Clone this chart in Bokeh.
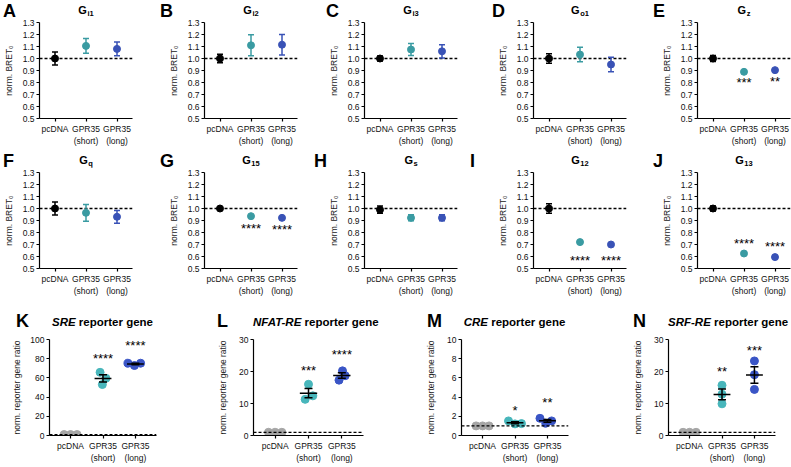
import math
import numpy as np
from bokeh.plotting import figure
from bokeh.models import Label, FixedTicker, PrintfTickFormatter, Span, Div
from bokeh.layouts import row, column
from bokeh.embed import file_html
from bokeh.resources import INLINE

FONT = "Liberation Sans"

# ---------------- data ----------------
groups = ["pcDNA", "GPR35\n(short)", "GPR35\n(long)"]

bret_letters = ["A", "B", "C", "D", "E", "F", "G", "H", "I", "J"]
bret_subs = ["i1", "i2", "i3", "o1", "z", "q", "15", "s", "12", "13"]
bret_mean = [
    [1.00, 1.105, 1.080],
    [1.00, 1.110, 1.115],
    [1.00, 1.075, 1.060],
    [1.00, 1.033, 0.950],
    [1.00, 0.889, 0.903],
    [1.00, 0.964, 0.931],
    [1.00, 0.936, 0.922],
    [0.99, 0.922, 0.922],
    [1.00, 0.720, 0.700],
    [1.00, 0.625, 0.595],
]
bret_sem = [
    [0.055, 0.062, 0.058],
    [0.035, 0.088, 0.085],
    [0.020, 0.050, 0.055],
    [0.040, 0.060, 0.060],
    [0.025, 0.005, 0.005],
    [0.055, 0.070, 0.053],
    [0.008, 0.005, 0.005],
    [0.030, 0.025, 0.025],
    [0.040, 0.005, 0.005],
    [0.020, 0.015, 0.012],
]
bret_stars = [
    ["", "", ""], ["", "", ""], ["", "", ""], ["", "", ""],
    ["", "***", "**"],
    ["", "", ""],
    ["", "****", "****"],
    ["", "", ""],
    ["", "****", "****"],
    ["", "****", "****"],
]
bret_star_y = [
    [None] * 3, [None] * 3, [None] * 3, [None] * 3,
    [None, 0.800, 0.805],
    [None] * 3,
    [None, 0.830, 0.825],
    [None] * 3,
    [None, 0.565, 0.565],
    [None, 0.710, 0.685],
]
bret_yticks = [0.5, 0.6, 0.7, 0.8, 0.9, 1.0, 1.1, 1.2, 1.3]

rep_letters = ["K", "L", "M", "N"]
rep_italic = ["SRE", "NFAT-RE", "CRE", "SRF-RE"]
rep_ymax = [100, 30, 10, 30]
rep_yticks = [[0, 20, 40, 60, 80, 100], [0, 10, 20, 30], [0, 2, 4, 6, 8, 10], [0, 10, 20, 30]]
rep_pcdna = [[1.0, 1.0, 1.0], [1.0, 1.0, 1.0], [1.0, 1.0, 1.0], [1.0, 1.0, 1.0]]
rep_short = [[65.8, 59.6, 53.1], [16.0, 11.3, 12.4], [1.52, 1.21, 1.24], [15.7, 12.9, 9.9]]
rep_long = [[75.3, 72.9, 75.3], [20.2, 17.3, 18.7], [1.79, 1.28, 1.52], [23.3, 19.0, 14.4]]
rep_stars = [["", "****", "****"], ["", "***", "****"], ["", "*", "**"], ["", "**", "***"]]
rep_star_y = [[None, 80.5, 93.5], [None, 20.3, 25.4], [None, 2.6, 3.4], [None, 19.9, 26.7]]

# ---------------- style / layout ----------------
TOP_COLORS = ["#000000", "#3a9ba2", "#3952b6"]
DOT_COLORS = ["#a6a6a6", "#48b6bb", "#3a55c6"]

# top two rows: figure widths, left border, frame width
TOP_W = [165, 160, 169, 164, 133]
TOP_L = 34
TOP_F = 98
# bottom row
REP_W = [212, 208, 207, 164]
REP_L = [49, 41, 41, 41]
REP_F = [107, 110, 107, 107]
REP_STANDOFF = [5, 8, 8, 8]

# letter x positions (page px)
row1_letter_x = [3, 160, 326, 492, 653]
row2_letter_x = [3, 160, 314, 470, 653]
rep_letter_x = [16, 217, 427, 633]

# horizontal jitter of replicate dots (x units)
rep_jit_pc = [[-0.2, 0.0, 0.2]] * 4
rep_jit_short = [[-0.09, 0.09, -0.02], [0.0, -0.1, 0.13], [-0.2, 0.0, 0.2], [0.0, 0.0, 0.0]]
rep_jit_long = [[-0.23, -0.03, 0.16], [0.02, -0.085, 0.1], [-0.23, -0.05, 0.13], [0.0, 0.0, 0.0]]


def style_axes(p, ylabel, yticks, fmt, label_standoff):
    p.xaxis.ticker = FixedTicker(ticks=[0.5, 1.5, 2.5])
    p.xaxis.major_label_overrides = {0.5: groups[0], 1.5: groups[1], 2.5: groups[2]}
    p.yaxis.ticker = FixedTicker(ticks=yticks)
    p.yaxis.formatter = PrintfTickFormatter(format=fmt)
    p.yaxis.axis_label = ylabel
    for ax in (p.xaxis[0], p.yaxis[0]):
        ax.axis_line_color = "black"
        ax.axis_line_width = 1.2
        ax.major_tick_line_color = "black"
        ax.major_tick_line_width = 1.2
        ax.major_tick_in = 0
        ax.major_tick_out = 3
        ax.minor_tick_line_color = None
        ax.major_label_text_font = FONT
        ax.major_label_text_font_size = "8.5px"
        ax.major_label_text_color = "#111111"
        ax.major_label_standoff = 2
        ax.axis_label_text_font = FONT
        ax.axis_label_text_font_size = "8.5px"
        ax.axis_label_text_font_style = "normal"
        ax.axis_label_text_color = "#222222"
    p.yaxis.axis_label_standoff = label_standoff
    p.xgrid.visible = False
    p.ygrid.visible = False
    p.outline_line_color = None


def base_fig(width, height, xr, yr, bl, br, bt, bb):
    return figure(width=width, height=height, x_range=xr, y_range=yr,
                  output_backend="svg", toolbar_location=None,
                  min_border_left=bl, min_border_right=br,
                  min_border_top=bt, min_border_bottom=bb)


def star_label(p, x, y, txt):
    p.add_layout(Label(x=x, y=y, text=txt, text_align="center", text_baseline="alphabetic",
                       y_offset=0, text_font=FONT, text_font_size="13px", text_color="black"))


def bret_panel(i, col):
    w = TOP_W[col]
    p = base_fig(w, 133, (0, 3), (0.5, 1.3), TOP_L, w - TOP_L - TOP_F, 5, 32)
    style_axes(p, "norm. BRET\u2080", bret_yticks, "%.1f", 6)
    p.add_layout(Span(location=1.0, dimension="width", line_color="black",
                      line_width=1.3, line_dash="3 2", level="underlay"))
    xs = [k + 0.5 for k in range(3)]
    m = bret_mean[i]
    s = bret_sem[i]
    lo = [a - b for a, b in zip(m, s)]
    hi = [a + b for a, b in zip(m, s)]
    p.segment(x0=xs, y0=lo, x1=xs, y1=hi, line_color=TOP_COLORS, line_width=1.5)
    p.scatter(xs, hi, marker="dash", size=6, line_color=TOP_COLORS, line_width=1.5)
    p.scatter(xs, lo, marker="dash", size=6, line_color=TOP_COLORS, line_width=1.5)
    p.scatter(xs, m, size=7, fill_color=TOP_COLORS, line_color=TOP_COLORS)
    for k in range(3):
        if bret_stars[i][k]:
            star_label(p, xs[k], bret_star_y[i][k], bret_stars[i][k])
    return p


def rep_panel(i):
    ymax = rep_ymax[i]
    w = REP_W[i]
    p = base_fig(w, 131, (-0.15, 3.15), (0, ymax), REP_L[i], w - REP_L[i] - REP_F[i], 5, 28)
    style_axes(p, "norm. reporter gene ratio", rep_yticks[i], "%d", REP_STANDOFF[i])
    p.add_layout(Span(location=1.0, dimension="width", line_color="black",
                      line_width=1.3, line_dash="3 2", level="underlay"))
    sets = [rep_pcdna[i], rep_short[i], rep_long[i]]
    jits = [rep_jit_pc[i], rep_jit_short[i], rep_jit_long[i]]
    for k in range(3):
        vals = np.array(sets[k])
        xc = k + 0.5
        if k > 0:
            mean = vals.mean()
            sem = vals.std(ddof=1) / math.sqrt(len(vals))
            p.segment(x0=[xc - 0.26], y0=[mean], x1=[xc + 0.26], y1=[mean],
                      line_color="black", line_width=1.5)
            p.segment(x0=[xc], y0=[mean - sem], x1=[xc], y1=[mean + sem],
                      line_color="black", line_width=1.5)
            p.scatter([xc, xc], [mean - sem, mean + sem], marker="dash", size=8,
                      line_color="black", line_width=1.5)
        p.scatter([xc + j for j in jits[k]], list(vals), size=8,
                  fill_color=DOT_COLORS[k], line_color=DOT_COLORS[k], level="underlay")
        if rep_stars[i][k]:
            star_label(p, xc, rep_star_y[i][k], rep_stars[i][k])
    return p


def span_abs(left, top, html, size, width=None, align="left"):
    wcss = f"width:{width}px;text-align:{align};" if width is not None else ""
    return (f'<div style="position:absolute;left:{left}px;top:{top}px;{wcss}'
            f'font-family:Liberation Sans;font-size:{size}px;font-weight:bold;'
            f'font-style:normal;line-height:{size}px;white-space:nowrap;color:#000;">{html}</div>')


def header_top(idx0, letter_x, height):
    items = []
    x0 = 0
    for c in range(5):
        i = idx0 + c
        fl = x0 + TOP_L
        items.append(span_abs(letter_x[c], 2, bret_letters[i], 18))
        title = (f'G<span style="font-size:7.5px;position:relative;top:2.5px;'
                 f'margin-left:0.5px;">{bret_subs[i]}</span>')
        items.append(span_abs(fl + 3, 4.5, title, 11, width=TOP_F, align="center"))
        x0 += TOP_W[c]
    html = f'<div style="position:relative;width:791px;height:{height}px;">' + "".join(items) + "</div>"
    return Div(text=html, width=791, height=height, margin=0)


def header_rep(height):
    items = []
    x0 = 0
    for i in range(4):
        fl = x0 + REP_L[i]
        items.append(span_abs(rep_letter_x[i], 12, rep_letters[i], 18))
        title = f'<i>{rep_italic[i]}</i> reporter gene'
        items.append(span_abs(fl, 17, title, 11.5, width=REP_F[i], align="center"))
        x0 += REP_W[i]
    html = f'<div style="position:relative;width:791px;height:{height}px;">' + "".join(items) + "</div>"
    return Div(text=html, width=791, height=height, margin=0)


row1 = [bret_panel(i, i) for i in range(5)]
row2 = [bret_panel(i, i - 5) for i in range(5, 10)]
row3 = [rep_panel(i) for i in range(4)]

layout = column(
    header_top(0, row1_letter_x, 17), row(*row1, spacing=0),
    header_top(5, row2_letter_x, 17), row(*row2, spacing=0),
    header_rep(34), row(*row3, spacing=0),
    spacing=0,
)

with open("out.html", "w") as f:
    f.write(file_html(layout, INLINE))
